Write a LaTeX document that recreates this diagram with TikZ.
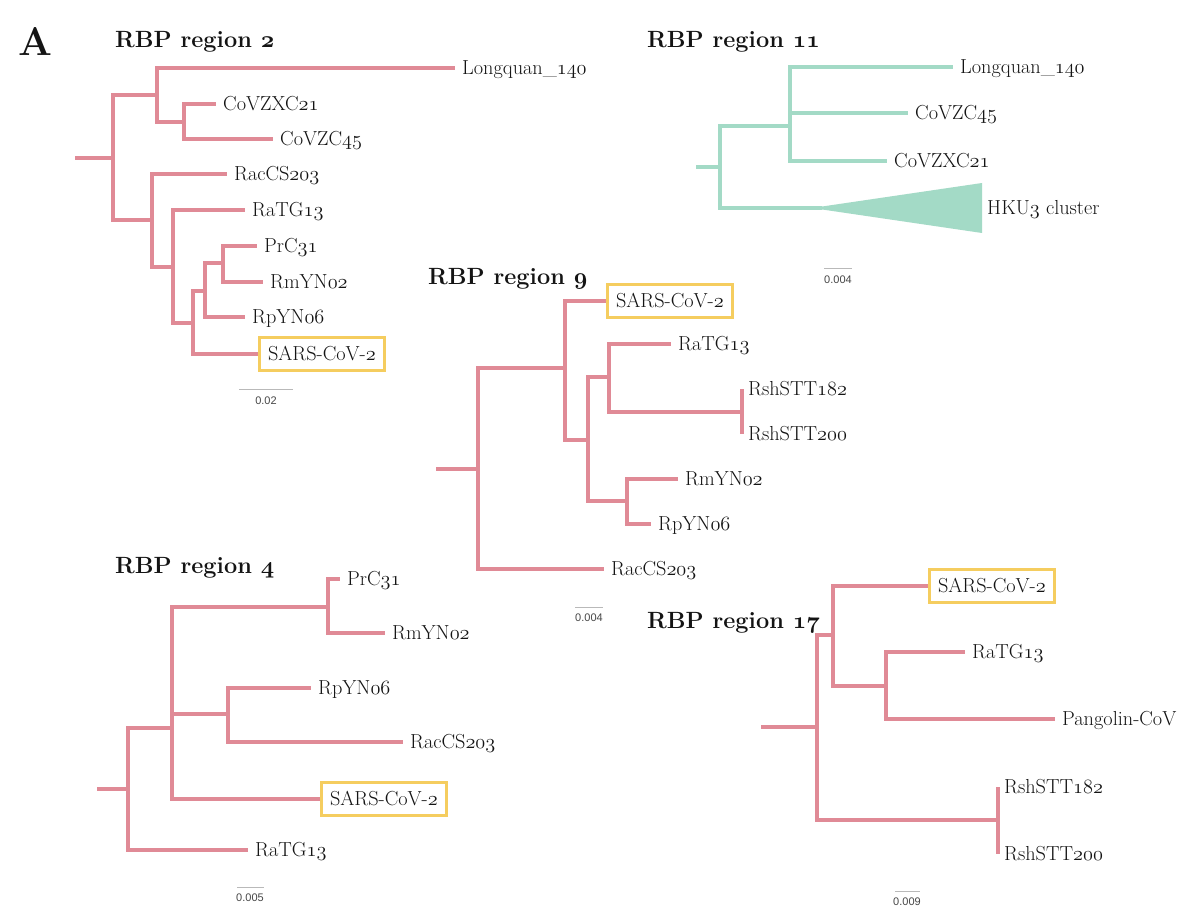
\RequirePackage{fix-cm}
\documentclass[tikz,border=0pt]{standalone}
\usepackage{fontspec}
\newfontfamily\scalefnt{Liberation Sans}
\definecolor{pinkc}{RGB}{224,138,150}
\definecolor{tealc}{RGB}{163,218,198}
\definecolor{yelc}{RGB}{245,205,95}
\definecolor{txt}{RGB}{20,20,20}
\definecolor{sbarc}{RGB}{185,185,185}
\definecolor{slabc}{RGB}{70,70,70}
\newcommand\osf[1]{{\fontencoding{OML}\fontfamily{lmm}\fontseries{m}\fontshape{it}\selectfont #1}}
\newcommand\osfb[1]{{\fontencoding{OML}\fontfamily{cmm}\fontseries{b}\fontshape{it}\selectfont #1}}
\newcommand\lblfont{\fontsize{20.3}{23}\selectfont}
\newcommand\ttlfont{\fontsize{23.5}{27}\selectfont\bfseries}
\begin{document}
\begin{tikzpicture}[x=1pt,y=-1pt,
  br/.style={draw=pinkc,line width=3.7pt},
  brt/.style={draw=tealc,line width=3.7pt},
  leaf/.style={anchor=west,inner xsep=7pt,inner ysep=0pt,text height=13.9pt,text depth=0pt,font=\lblfont,text=txt},
  sars/.style={draw=yelc,line width=2.8pt,minimum width=125pt,minimum height=33pt,anchor=west,inner sep=0pt,text height=13.9pt,text depth=0pt,font=\lblfont,text=txt},
  ttl/.style={anchor=base west,inner sep=0pt,font=\ttlfont,text=txt},
  sbar/.style={draw=sbarc,line width=0.9pt},
  slab/.style={font=\scalefnt\fontsize{11}{12}\selectfont,text=slabc,inner sep=0pt}
]
\useasboundingbox[fill=white] (0,0) rectangle (1200,920);

\node[anchor=base west,inner sep=0pt,font=\fontsize{40}{44}\selectfont\bfseries,text=txt] (lblA) at (18,56) {A};

% ---------------- RBP region 2 ----------------
\node[ttl] (t2) at (115,48) {RBP region \osfb{2}};
\coordinate (r2s) at (75,158);
\coordinate (r2r) at (113,158);
\coordinate (r2a) at (157,95);
\coordinate (r2b) at (152,220);
\coordinate (r2c) at (184,122);
\coordinate (r2d) at (173,267);
\coordinate (r2e) at (193,323);
\coordinate (r2f) at (205,291);
\coordinate (r2g) at (223,263);
\node[leaf] (r2lq) at (455,68) {Longquan\_\osf{140}};
\node[leaf] (r2z21) at (216,104) {CoVZXC\osf{21}};
\node[leaf] (r2z45) at (273,139) {CoVZC\osf{45}};
\node[leaf] (r2rac) at (227,174) {RacCS\osf{203}};
\node[leaf] (r2ra) at (245,210) {RaTG\osf{13}};
\node[leaf] (r2pr) at (257,246) {PrC\osf{31}};
\node[leaf] (r2rm) at (263,282) {RmYN\osf{02}};
\node[leaf] (r2rp) at (245,317) {RpYN\osf{06}};
\node[sars] (r2sc) at (258,354) {SARS-CoV-\osf{2}};
\draw[br] (r2s) -- (r2r);
\draw[br] (r2r) |- (r2a);
\draw[br] (r2r) |- (r2b);
\draw[br] (r2a) |- (r2lq.west);
\draw[br] (r2a) |- (r2c);
\draw[br] (r2c) |- (r2z21.west);
\draw[br] (r2c) |- (r2z45.west);
\draw[br] (r2b) |- (r2rac.west);
\draw[br] (r2b) |- (r2d);
\draw[br] (r2d) |- (r2ra.west);
\draw[br] (r2d) |- (r2e);
\draw[br] (r2e) |- (r2f);
\draw[br] (r2e) |- (r2sc.west);
\draw[br] (r2f) |- (r2g);
\draw[br] (r2f) |- (r2rp.west);
\draw[br] (r2g) |- (r2pr.west);
\draw[br] (r2g) |- (r2rm.west);
\coordinate (s2a) at (239,389);
\coordinate (s2b) at (293,389);
\draw[sbar] (s2a) -- (s2b);
\node[slab] (s2l) at (266,401) {0.02};

% ---------------- RBP region 11 ----------------
\node[ttl] (t11) at (647,48) {RBP region \osfb{11}};
\coordinate (r11s) at (696,167);
\coordinate (r11r) at (720,167);
\coordinate (r11h) at (790,126);
\coordinate (r11t) at (822,208);
\coordinate (r11tp) at (812,208);
\coordinate (r11ta) at (982,183);
\coordinate (r11tb) at (982,233);
\coordinate (r11tc) at (982,208);
\node[leaf] (r11lq) at (953,67) {Longquan\_\osf{140}};
\node[leaf] (r11z45) at (908,113) {CoVZC\osf{45}};
\node[leaf] (r11z21) at (887,161) {CoVZXC\osf{21}};
\node[leaf,inner xsep=5pt] (r11hku) at (r11tc) {HKU\osf{3} cluster};
\fill[tealc] (r11tp) -- (r11ta) -- (r11tb) -- cycle;
\draw[brt] (r11s) -- (r11r);
\draw[brt] (r11r) |- (r11h);
\draw[brt] (r11r) |- (r11t);
\draw[brt] (r11h) |- (r11lq.west);
\draw[brt] (r11h) |- (r11z45.west);
\draw[brt] (r11h) |- (r11z21.west);
\coordinate (s11a) at (824,268);
\coordinate (s11b) at (852,268);
\draw[sbar] (s11a) -- (s11b);
\node[slab] (s11l) at (838,280) {0.004};

% ---------------- RBP region 9 ----------------
\node[ttl] (t9) at (428,285) {RBP region \osfb{9}};
\coordinate (r9s) at (436,469);
\coordinate (r9r) at (478,469);
\coordinate (r9i) at (565,368);
\coordinate (r9j) at (588,440);
\coordinate (r9k) at (609,377);
\coordinate (r9l) at (627,501);
\coordinate (r9m) at (742,412);
\node[sars] (r9sc) at (606,301) {SARS-CoV-\osf{2}};
\node[leaf] (r9ra) at (671,344) {RaTG\osf{13}};
\node[leaf,inner xsep=6pt] (r9s182) at (742,389) {RshSTT\osf{182}};
\node[leaf,inner xsep=6pt] (r9s200) at (742,434) {RshSTT\osf{200}};
\node[leaf] (r9rm) at (678,479) {RmYN\osf{02}};
\node[leaf] (r9rp) at (651,524) {RpYN\osf{06}};
\node[leaf] (r9rac) at (604,569) {RacCS\osf{203}};
\draw[br] (r9s) -- (r9r);
\draw[br] (r9r) |- (r9i);
\draw[br] (r9r) |- (r9rac.west);
\draw[br] (r9i) |- (r9sc.west);
\draw[br] (r9i) |- (r9j);
\draw[br] (r9j) |- (r9k);
\draw[br] (r9j) |- (r9l);
\draw[br] (r9k) |- (r9ra.west);
\draw[br] (r9k) |- (r9m);
\draw[br] (r9m) |- (r9s182.west);
\draw[br] (r9m) |- (r9s200.west);
\draw[br] (r9l) |- (r9rm.west);
\draw[br] (r9l) |- (r9rp.west);
\coordinate (s9a) at (575,607);
\coordinate (s9b) at (603,607);
\draw[sbar] (s9a) -- (s9b);
\node[slab] (s9l) at (589,618) {0.004};

% ---------------- RBP region 4 ----------------
\node[ttl] (t4) at (115,573) {RBP region \osfb{4}};
\coordinate (r4s) at (97,789);
\coordinate (r4r) at (128,789);
\coordinate (r4n) at (172,728);
\coordinate (r4o) at (328,607);
\coordinate (r4p) at (228,714);
\node[leaf] (r4ra) at (248,850) {RaTG\osf{13}};
\node[sars] (r4sc) at (320,799) {SARS-CoV-\osf{2}};
\node[leaf] (r4pr) at (340,579) {PrC\osf{31}};
\node[leaf] (r4rm) at (385,633) {RmYN\osf{02}};
\node[leaf] (r4rp) at (311,688) {RpYN\osf{06}};
\node[leaf] (r4rac) at (403,742) {RacCS\osf{203}};
\draw[br] (r4s) -- (r4r);
\draw[br] (r4r) |- (r4n);
\draw[br] (r4r) |- (r4ra.west);
\draw[br] (r4n) |- (r4o);
\draw[br] (r4n) |- (r4p);
\draw[br] (r4n) |- (r4sc.west);
\draw[br] (r4o) |- (r4pr.west);
\draw[br] (r4o) |- (r4rm.west);
\draw[br] (r4p) |- (r4rp.west);
\draw[br] (r4p) |- (r4rac.west);
\coordinate (s4a) at (237,887);
\coordinate (s4b) at (264,887);
\draw[sbar] (s4a) -- (s4b);
\node[slab] (s4l) at (250,898) {0.005};

% ---------------- RBP region 17 ----------------
\node[ttl] (t17) at (647,628) {RBP region \osfb{17}};
\coordinate (r17s) at (761,727);
\coordinate (r17r) at (817,727);
\coordinate (r17q) at (833,635);
\coordinate (r17u) at (998,820);
\coordinate (r17v) at (886,686);
\node[sars] (r17sc) at (928,586) {SARS-CoV-\osf{2}};
\node[leaf] (r17ra) at (965,652) {RaTG\osf{13}};
\node[leaf] (r17pg) at (1055,719) {Pangolin-CoV};
\node[leaf,inner xsep=6pt] (r17s182) at (998,787) {RshSTT\osf{182}};
\node[leaf,inner xsep=6pt] (r17s200) at (998,854) {RshSTT\osf{200}};
\draw[br] (r17s) -- (r17r);
\draw[br] (r17r) |- (r17q);
\draw[br] (r17r) |- (r17u);
\draw[br] (r17q) |- (r17sc.west);
\draw[br] (r17q) |- (r17v);
\draw[br] (r17v) |- (r17ra.west);
\draw[br] (r17v) |- (r17pg.west);
\draw[br] (r17u) |- (r17s182.west);
\draw[br] (r17u) |- (r17s200.west);
\coordinate (s17a) at (895,891);
\coordinate (s17b) at (920,891);
\draw[sbar] (s17a) -- (s17b);
\node[slab] (s17l) at (907,902) {0.009};
\end{tikzpicture}
\end{document}
